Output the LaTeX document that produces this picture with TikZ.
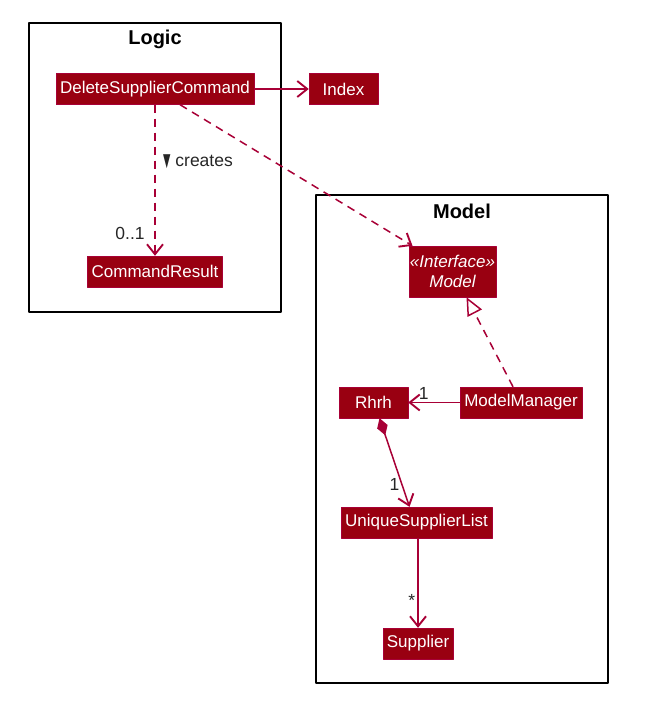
\documentclass[tikz,border=0pt]{standalone}
\usepackage{fontspec}
\setmainfont{Liberation Sans}
\newfontfamily\symfont{DejaVu Sans}
\usetikzlibrary{arrows.meta}
\definecolor{umlfill}{RGB}{153,0,17}
\definecolor{umlline}{RGB}{168,0,54}

\begin{document}
\begin{tikzpicture}[x=1pt,y=-1pt,line join=round,
	cls/.style={fill=umlfill,draw=umlline,text=white,font=\fontsize{17}{20}\selectfont,minimum width=69pt,minimum height=31pt,inner xsep=4pt,inner ysep=2pt},
	pkg/.style={draw=black,line width=1.6pt},
	title/.style={font=\fontsize{20}{22}\selectfont\bfseries},
	rel/.style={draw=umlline,line width=1.5pt},
	barb/.style={-{Straight Barb[length=10pt,width=16pt,line width=1.9pt]}},
	dsh/.style={dash pattern=on 8pt off 6pt},
	lbl/.style={font=\fontsize{17.5}{19}\selectfont,text=black!85,inner sep=2pt}]
	\useasboundingbox (0,0) rectangle (648,709);
	% packages
	\draw[pkg] (29,23) rectangle (281,312);
	\node[title] (logic) at (155,39) {Logic};
	\draw[pkg] (316,195) rectangle (608,683);
	\node[title] (model) at (462,211) {Model};
	% classes
	\node[cls] (dsc) at (155,89) {DeleteSupplierCommand};
	\node[cls] (idx) at (343.5,89) {Index};
	\node[cls] (cres) at (155,271.5) {CommandResult};
	\node[cls,font=\fontsize{17}{20}\selectfont\itshape,align=center,inner xsep=1pt,minimum height=51pt] (iface) at (452.5,271.5) {«Interface»\\Model};
	\node[cls] (rhrh) at (373.5,402.5) {Rhrh};
	\node[cls] (mm) at (521,402.5) {ModelManager};
	\node[cls] (usl) at (416.5,522.5) {UniqueSupplierList};
	\node[cls] (sup) at (418,643.5) {Supplier};
	% relations
	\draw[rel,barb] (dsc) -- (idx);
	\draw[rel,barb,dsh] (dsc.south) -- (cres.north);
	\node[lbl] (crl) at (198,162) {{\symfont\scalebox{0.55}[1.05]{▼}} creates};
	\node[lbl] (mult1) at (130,233) {0..1};
	\draw[rel,barb,dsh] ([xshift=25pt]dsc.south) -- ([xshift=-40pt]iface.north);
	\draw[rel,dsh,-{Triangle[open,length=18pt,width=16pt,line width=1.5pt,fill=white]}] ([xshift=-8pt]mm.north) -- ([xshift=14pt]iface.south);
	\draw[rel,barb] (mm) -- (rhrh) node[lbl,pos=0.7,above] {1};
	\draw[rel,{Diamond[length=18pt,width=11pt]}-{Straight Barb[length=10pt,width=16pt,line width=1.9pt]}] ([xshift=6pt]rhrh.south) -- ([xshift=-7pt]usl.north) node[lbl,pos=0.75,left] {1};
	\draw[rel,barb] ([xshift=1.5pt]usl.south) -- (sup.north) node[lbl,pos=0.7,left] {*};
\end{tikzpicture}
\end{document}
